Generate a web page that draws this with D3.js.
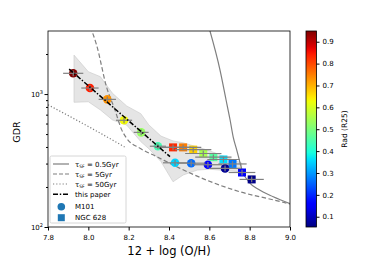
<!DOCTYPE html>
<html><head><meta charset="utf-8">
<script src="https://cdn.jsdelivr.net/npm/d3@7"></script>
<style>body{margin:0;background:#fff}svg{font-family:"DejaVu Sans",sans-serif}</style>
</head><body><svg id="c" width="390" height="260"></svg>
<script>
// ---- data ----
const m101X   = [7.925, 8.008, 8.094, 8.177, 8.262, 8.345, 8.43, 8.51, 8.593, 8.678];
const m101Y   = [1432, 1110, 912, 635, 515, 405, 304, 302, 294, 276];
const m101Rad = [0.95, 0.84, 0.73, 0.63, 0.53, 0.44, 0.35, 0.26, 0.16, 0.07];
const m101Xerr= [0.05, 0.043, 0.043, 0.04, 0.037, 0.04, 0.06, 0.07, 0.07, 0.08];
const ngcX    = [8.42, 8.47, 8.52, 8.57, 8.62, 8.67, 8.715, 8.762, 8.81];
const ngcY    = [397, 397, 382, 357, 335, 322, 298, 257, 228];
const ngcRad  = [0.83, 0.75, 0.67, 0.55, 0.46, 0.36, 0.27, 0.16, 0.06];
const ngcXerr = [0.09, 0.09, 0.09, 0.09, 0.09, 0.08, 0.07, 0.066, 0.06];
const yErrFrac = 0.05;
const bandX  = [7.929, 8.0, 8.06, 8.12, 8.19, 8.26, 8.30, 8.36, 8.42, 8.47, 8.54, 8.60, 8.76];
const bandHi = [1963, 1472, 1350, 1012, 814, 712, 586, 483, 444, 430, 400, 375, 303];
const bandLo = [867, 875, 759, 638, 585, 439, 388, 311, 219, 246, 268, 272, 260];
const tau05X = [8.60, 8.653, 8.683, 8.703, 8.719, 8.736, 8.752, 8.762, 8.80, 8.843, 8.917, 9.0];
const tau05Y = [3100, 1515, 902, 638, 470, 379, 305, 268, 215, 192, 169, 150];
const tau5X  = [8.010, 8.041, 8.091, 8.132, 8.165, 8.19, 8.256, 8.339, 8.455, 8.587, 8.752, 8.917, 9.0];
const tau5Y  = [3200, 2335, 1120, 760, 540, 465, 391, 338, 276, 225, 184, 160, 149];
const tau50X = [7.8, 8.0, 8.18];
const tau50Y = [830, 570, 400];
const paperX = [7.905, 8.405];
const paperY = [1540, 338];
const xTicks = [7.8, 8.0, 8.2, 8.4, 8.6, 8.8, 9.0];
const cbTicks = [0.1, 0.2, 0.3, 0.4, 0.5, 0.6, 0.7, 0.8, 0.9];
const legendLabels = ["0.5Gyr", "5Gyr", "50Gyr", "this paper", "M101", "NGC 628"];

// ---- layout ----
const svg = d3.select("#c");
const L = 48, R = 290, T = 31, B = 227;
const x = d3.scaleLinear().domain([7.8, 9.0]).range([L, R]);
const y = d3.scaleLog().domain([100, 2980]).range([B, T]);
const radDom = [0.053, 0.949];

// jet colormap (matplotlib)
function seg(pts, t){ for(let i=1;i<pts.length;i++){ if(t<=pts[i][0]){const [x0,y0]=pts[i-1],[x1,y1]=pts[i];return y0+(y1-y0)*(t-x0)/(x1-x0);} } return pts[pts.length-1][1]; }
const jr=[[0,0],[0.35,0],[0.66,1],[0.89,1],[1,0.5]], jg=[[0,0],[0.125,0],[0.375,1],[0.64,1],[0.91,0],[1,0]], jb=[[0,0.5],[0.11,1],[0.34,1],[0.65,0],[1,0]];
function jet(t){ t=Math.max(0,Math.min(1,t)); return d3.rgb(255*seg(jr,t),255*seg(jg,t),255*seg(jb,t)).toString(); }
const cnorm = d3.scaleLinear().domain(radDom).range([0,1]);
const col = r => jet(cnorm(r));

svg.append("defs").append("clipPath").attr("id","clp").append("rect").attr("x",L).attr("y",T).attr("width",R-L).attr("height",B-T);
const g = svg.append("g").attr("clip-path","url(#clp)");

// band
const area = d3.area().x((d,i)=>x(bandX[i])).y0((d,i)=>y(bandLo[i])).y1((d,i)=>y(bandHi[i]));
g.append("path").attr("d", area(bandX)).attr("fill","#d3d3d3").attr("fill-opacity",0.6).attr("stroke","#c8c8c8").attr("stroke-width",0.6);

const line = (xs, ys, curve) => d3.line().x((d,i)=>x(xs[i])).y((d,i)=>y(ys[i])).curve(curve)(xs);
g.append("path").attr("d", line(tau05X,tau05Y,d3.curveMonotoneX)).attr("fill","none").attr("stroke","#7f7f7f").attr("stroke-width",1.2);
g.append("path").attr("d", line(tau5X,tau5Y,d3.curveMonotoneX)).attr("fill","none").attr("stroke","#7f7f7f").attr("stroke-width",1.2).attr("stroke-dasharray","4.5,2.5");
g.append("path").attr("d", line(tau50X,tau50Y,d3.curveMonotoneX)).attr("fill","none").attr("stroke","#7f7f7f").attr("stroke-width",1.2).attr("stroke-dasharray","1.2,2");

// markers
const m101 = m101X.map((v,i)=>({x:v,y:m101Y[i],r:m101Rad[i],e:m101Xerr[i]}));
const ngc = ngcX.map((v,i)=>({x:v,y:ngcY[i],r:ngcRad[i],e:ngcXerr[i]}));
g.selectAll(".sq").data(ngc).enter().append("rect").attr("x",d=>x(d.x)-4).attr("y",d=>y(d.y)-4).attr("width",8).attr("height",8).attr("fill",d=>col(d.r));
g.selectAll(".ci").data(m101).enter().append("circle").attr("cx",d=>x(d.x)).attr("cy",d=>y(d.y)).attr("r",4.3).attr("fill",d=>col(d.r));
// error bars
[...ngc, ...m101].forEach(d=>{
  g.append("line").attr("x1",x(d.x-d.e)).attr("x2",x(d.x+d.e)).attr("y1",y(d.y)).attr("y2",y(d.y)).attr("stroke","#808080").attr("stroke-width",1.2);
  g.append("line").attr("x1",x(d.x)).attr("x2",x(d.x)).attr("y1",y(d.y*(1-yErrFrac))).attr("y2",y(d.y*(1+yErrFrac))).attr("stroke","#808080").attr("stroke-width",1.2);
});
// this paper
g.append("path").attr("d", line(paperX,paperY,d3.curveLinear)).attr("fill","none").attr("stroke","#000").attr("stroke-width",1.5).attr("stroke-dasharray","5,1.8,1.4,1.8");

// frame
svg.append("rect").attr("x",L).attr("y",T).attr("width",R-L).attr("height",B-T).attr("fill","none").attr("stroke","#000").attr("stroke-width",0.8);

// axes
const xa = svg.append("g").attr("transform",`translate(0,${B})`).call(d3.axisBottom(x).tickValues(xTicks).tickFormat(d3.format(".1f")).tickSize(3.5));
xa.select(".domain").remove();
xa.selectAll("text").attr("font-size",7).attr("font-family","DejaVu Sans").attr("dy","0.9em");
const minorY = [200,300,400,500,600,700,800,900,2000];
const ya = svg.append("g").attr("transform",`translate(${L},0)`).call(d3.axisLeft(y).tickValues([100,1000]).tickFormat("").tickSize(3.5));
ya.select(".domain").remove();
svg.append("g").attr("transform",`translate(${L},0)`).call(d3.axisLeft(y).tickValues(minorY).tickFormat("").tickSize(2)).select(".domain").remove();
[[100,"2"],[1000,"3"]].forEach(([v,e])=>{
  const t = svg.append("text").attr("x",L-5).attr("y",y(v)+2.5).attr("text-anchor","end").attr("font-size",7);
  t.append("tspan").text("10");
  t.append("tspan").attr("dy",-3).attr("font-size",5).text(e);
});
svg.append("text").attr("x",(L+R)/2).attr("y",255).attr("text-anchor","middle").attr("font-size",11.5).text("12 + log (O/H)");
svg.append("text").attr("transform",`translate(20,132) rotate(-90)`).attr("text-anchor","middle").attr("font-size",9.5).text("GDR");

// legend
const lg = svg.append("g");
lg.append("rect").attr("x",50).attr("y",156).attr("width",76).attr("height",67).attr("rx",1.5).attr("fill","#fff").attr("fill-opacity",0.8).attr("stroke","#ccc").attr("stroke-width",0.8);
const ly = [164, 174, 184, 194.3, 206.7, 217.7];
const styles = [null,"4,2","1.2,2"];
for(let i=0;i<3;i++){
  lg.append("line").attr("x1",53).attr("x2",69).attr("y1",ly[i]).attr("y2",ly[i]).attr("stroke","#7f7f7f").attr("stroke-width",1.2).attr("stroke-dasharray",styles[i]);
  const t = lg.append("text").attr("x",75).attr("y",ly[i]+2.5).attr("font-size",7);
  t.append("tspan").text("τ");
  t.append("tspan").attr("font-size",4.5).attr("dy",1.2).text("SF");
  t.append("tspan").attr("dy",-1.2).text(" = " + legendLabels[i]);
}
lg.append("line").attr("x1",53).attr("x2",69).attr("y1",ly[3]).attr("y2",ly[3]).attr("stroke","#000").attr("stroke-width",1.5).attr("stroke-dasharray","5,1.8,1.4,1.8");
lg.append("text").attr("x",75).attr("y",ly[3]+2.5).attr("font-size",7).text(legendLabels[3]);
lg.append("circle").attr("cx",61.3).attr("cy",ly[4]).attr("r",3.8).attr("fill","#1f77b4");
lg.append("text").attr("x",75).attr("y",ly[4]+2.5).attr("font-size",7).text(legendLabels[4]);
lg.append("rect").attr("x",57.8).attr("y",ly[5]-3.5).attr("width",7).attr("height",7).attr("fill","#1f77b4");
lg.append("text").attr("x",75).attr("y",ly[5]+2.5).attr("font-size",7).text(legendLabels[5]);

// colorbar
const cbx = 306, cbw = 10.5;
const cy = d3.scaleLinear().domain(radDom).range([B, T]);
const grad = svg.select("defs").append("linearGradient").attr("id","jetg").attr("x1",0).attr("y1",1).attr("x2",0).attr("y2",0);
d3.range(0,1.0001,0.02).forEach(t=>grad.append("stop").attr("offset",t).attr("stop-color",jet(t)));
svg.append("rect").attr("x",cbx).attr("y",T).attr("width",cbw).attr("height",B-T).attr("fill","url(#jetg)").attr("stroke","#000").attr("stroke-width",0.8);
const ca = svg.append("g").attr("transform",`translate(${cbx+cbw},0)`).call(d3.axisRight(cy).tickValues(cbTicks).tickFormat(d3.format(".1f")).tickSize(3));
ca.select(".domain").remove();
ca.selectAll("text").attr("font-size",7).attr("font-family","DejaVu Sans");
svg.append("text").attr("transform",`translate(347,129) rotate(-90)`).attr("text-anchor","middle").attr("font-size",7.5).text("Rad (R25)");
</script></body></html>
